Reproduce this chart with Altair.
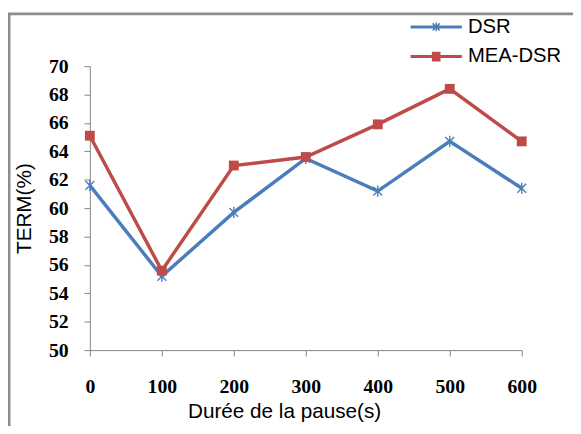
import altair as alt
import pandas as pd

# ---- data ----
pause = [0, 100, 200, 300, 400, 500, 600]
dsr = [61.6, 55.2, 59.7, 63.5, 61.2, 64.7, 61.4]
mea_dsr = [65.1, 55.6, 63.0, 63.6, 65.9, 68.4, 64.7]
series = ["DSR", "MEA-DSR"]
colors = ["#4a7ebb", "#be4b48"]
x_ticks = [0, 100, 200, 300, 400, 500, 600]
y_ticks = [50, 52, 54, 56, 58, 60, 62, 64, 66, 68, 70]

df = pd.DataFrame({
    "pause": pause + pause,
    "term": dsr + mea_dsr,
    "serie": [series[0]] * len(pause) + [series[1]] * len(pause),
})

# marker / legend symbol shapes (legend: thick line drawn as parallel strokes)
AST = "M-1,-1L1,1M-1,1L1,-1M0,-1.25L0,1.25"
LEG_LINE = "M-6.5,-0.2H6.5M-6.5,0H6.5M-6.5,0.2H6.5"
LEG_DSR = LEG_LINE + "M-0.9,-0.9L0.9,0.9M-0.9,0.9L0.9,-0.9M0,-1.1L0,1.1"
LEG_MEA = LEG_LINE + ("M-1.1,-1.05H1.1M-1.1,-0.75H1.1M-1.1,-0.45H1.1M-1.1,-0.15H1.1"
                      "M-1.1,0.15H1.1M-1.1,0.45H1.1M-1.1,0.75H1.1M-1.1,1.05H1.1")

legend = alt.Legend(
    title=None, orient="none", legendX=341, legendY=-50,
    symbolSize=64, symbolStrokeWidth=1.5, symbolOpacity=1,
    labelFont="Liberation Sans", labelFontSize=20.5, labelColor="black",
    labelOffset=22, rowPadding=9, padding=0,
)

color = alt.Color("serie:N", scale=alt.Scale(domain=series, range=colors), legend=legend)

x = alt.X(
    "pause:Q",
    scale=alt.Scale(domain=[0, 600], nice=False, zero=False),
    axis=alt.Axis(values=x_ticks, format="d", title="Durée de la pause(s)",
                  labelPadding=21, labelFlush=False, titleX=197, titleY=62,
                  titleBaseline="middle", titleAlign="center"),
)
y = alt.Y(
    "term:Q",
    scale=alt.Scale(domain=[50, 70], nice=False, zero=False),
    axis=alt.Axis(values=y_ticks, format="d", title="TERM(%)",
                  labelPadding=16, labelFlush=False, titleX=-66, titleY=144, titleAngle=270,
                  titleBaseline="middle", titleAlign="center"),
)

base = alt.Chart(df)

border = alt.Chart(pd.DataFrame({"cadre": [0]})).mark_rect(
    filled=False, stroke="#8c8c8c", strokeWidth=3
).encode(
    x=alt.value(-82), x2=alt.value(700), y=alt.value(-53), y2=alt.value(600)
)

legend_layer = base.transform_filter("datum.pause < 0").mark_point(
    filled=False, size=64, strokeWidth=1.5, opacity=1
).encode(
    x=x, y=y, color=color,
    shape=alt.Shape("serie:N", scale=alt.Scale(domain=series, range=[LEG_DSR, LEG_MEA]), legend=legend),
)

lines = base.mark_line(strokeWidth=3.5).encode(x=x, y=y, color=color)

pts_dsr = base.transform_filter(alt.datum.serie == "DSR").mark_point(
    shape=AST, filled=False, size=81, strokeWidth=1.4, opacity=1
).encode(x=x, y=y, color=color)

pts_mea = base.transform_filter(alt.datum.serie == "MEA-DSR").mark_point(
    shape="square", filled=True, size=100, opacity=1
).encode(x=x, y=y, color=color)

chart = alt.layer(border, legend_layer, lines, pts_dsr, pts_mea).properties(
    width=438, height=288,
    autosize=alt.AutoSizeParams(type="none"),
    padding={"left": 83, "top": 56, "right": 52, "bottom": 74},
).configure_view(stroke=None).configure_axis(
    grid=False,
    domainColor="#868686", domainWidth=1,
    tickColor="#868686", tickWidth=1, tickSize=6,
    labelFont="Liberation Serif", labelFontSize=20, labelFontWeight="bold", labelColor="black",
    titleFont="Liberation Sans", titleFontSize=21, titleFontWeight="normal", titleColor="black",
)

chart.save("out.html", embed_options={"renderer": "svg", "actions": False})
